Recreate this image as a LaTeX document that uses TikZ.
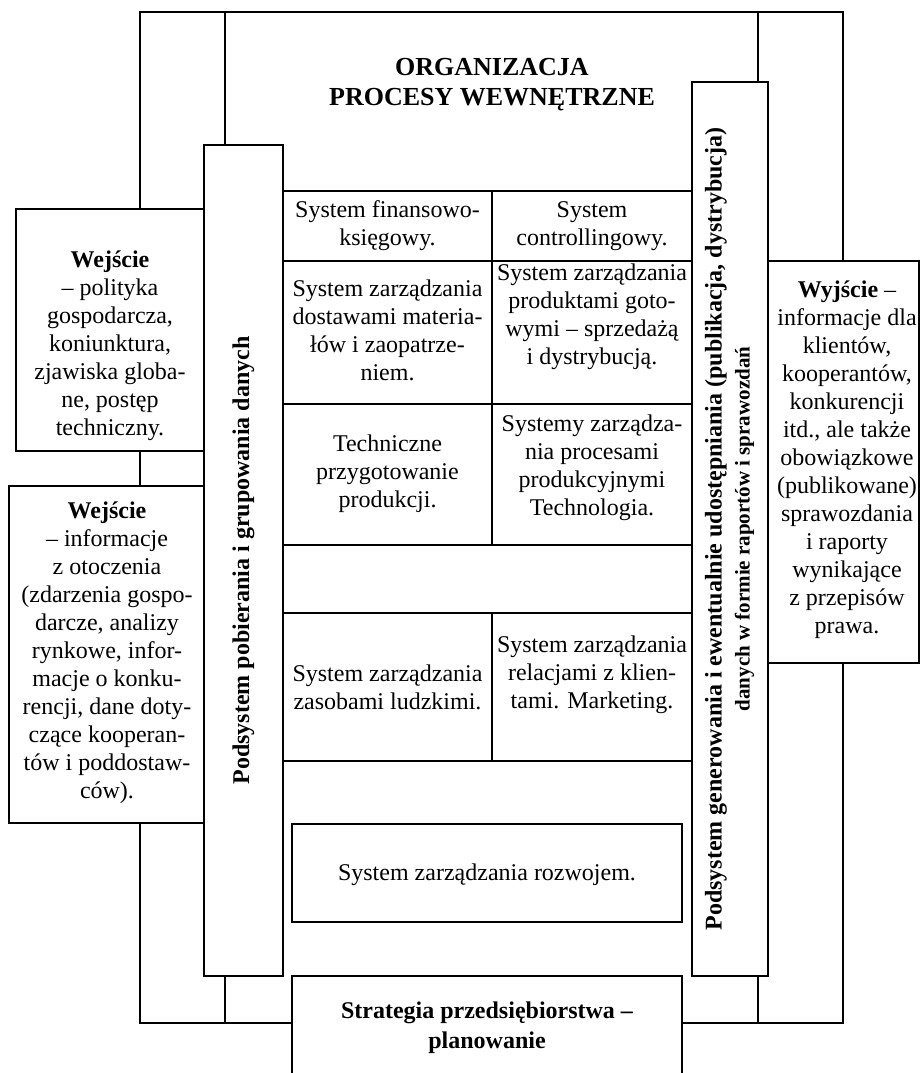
\documentclass[tikz,border=0pt]{standalone}
\usepackage{fontspec}
\setmainfont{Liberation Serif}
\usepackage{graphicx}
\usetikzlibrary{positioning}
\tikzset{
  box/.style={draw,line width=1pt,fill=white,inner sep=0pt},
  txt/.style={align=center,inner sep=0pt,font=\fontsize{12}{14}\selectfont},
  link/.style={line width=0.6pt},
  grid/.style={line width=1pt},
}
\begin{document}
\begin{tikzpicture}[x=0.5pt,y=-0.5pt]
\useasboundingbox (0,0) rectangle (920,1073);
\coordinate (tl) at (140,12);
\coordinate (tr) at (843,12);
\coordinate (bl) at (140,1023);
\coordinate (br) at (843,1023);
\coordinate (lt) at (225,12);
\coordinate (rt) at (758,12);
\node[txt,font=\fontsize{13}{15}\selectfont\bfseries] (org) at (492,85) {ORGANIZACJA\\PROCESY WEWNĘTRZNE};
\node[box,minimum width=94pt,minimum height=121pt] (wej1) at (110,330) {};
\node[txt] (wej1t) at (110,346) {\textbf{Wejście}\\– polityka\\gospodarcza,\\koniunktura,\\zjawiska globa-\\ne, postęp\\techniczny.};
\node[box,minimum width=97.5pt,minimum height=168.5pt] (wej2) at (106.5,654.5) {};
\node[txt] (wej2t) at (107,653) {\textbf{Wejście}\\– informacje\\z otoczenia\\(zdarzenia gospo-\\darcze, analizy\\rynkowe, infor-\\macje o konku-\\rencji, dane doty-\\czące kooperan-\\tów i poddostaw-\\ców).};
\node[box,minimum width=75.5pt,minimum height=201pt] (wyj) at (843.5,462) {};
\node[txt] (wyjt) at (847,460) {\textbf{Wyjście} –\\informacje dla\\klientów,\\kooperantów,\\konkurencji\\itd., ale także\\obowiązkowe\\(publikowane)\\sprawozdania\\i raporty\\wynikające\\z przepisów\\prawa.};
\node[box,minimum width=39.5pt,minimum height=415.5pt,font=\fontsize{12}{14}\selectfont\bfseries] (pob) at (243.5,560.5) {\rotatebox{90}{Podsystem pobierania i grupowania danych}};
\node[box,minimum width=38pt,minimum height=447pt,font=\fontsize{12}{14}\selectfont\bfseries] (gen) at (730,529) {\rotatebox{90}{\begin{tabular}{@{}c@{}}Podsystem generowania i ewentualnie udostępniania (publikacja, dystrybucja)\\{\fontsize{10.5}{13}\selectfont danych w formie raportów i sprawozdań}\end{tabular}}};
\node[box,minimum width=195pt,minimum height=49pt] (rozw) at (487,873) {};
\node[txt] (rozwt) at (487,875) {System zarządzania rozwojem.};
\node[box,minimum width=195pt,minimum height=57pt] (strat) at (487,1033) {};
\node[txt,font=\fontsize{12}{15}\selectfont\bfseries] (stratt) at (487,1028) {Strategia przedsiębiorstwa –\\planowanie};
\foreach \y in {191,261,404,545,613,761}
  \draw[grid] (pob.east |- 0,\y) -- (gen.west |- 0,\y);
\draw[grid] (492,191) -- (492,545);
\draw[grid] (492,613) -- (492,761);
\node[txt] (c11) at (387.5,226) {System finansowo-\\księgowy.};
\node[txt] (c12) at (592,226) {System\\controllingowy.};
\node[txt] (c21) at (387.5,330) {System zarządzania\\dostawami materia-\\łów i zaopatrze-\\niem.};
\node[txt] (c22) at (592,317) {System zarządzania\\produktami goto-\\wymi – sprzedażą\\i dystrybucją.};
\node[txt] (c31) at (387.5,474) {Techniczne\\przygotowanie\\produkcji.};
\node[txt] (c32) at (592,468) {Systemy zarządza-\\nia procesami\\produkcyjnymi\\Technologia.};
\node[txt] (c51) at (387.5,687) {System zarządzania\\zasobami ludzkimi.};
\node[txt] (c52) at (592,675) {System zarządzania\\relacjami z klien-\\tami. Marketing.};
\draw[link] (wej1.north -| tl) -- (tl) -- (tr) -- (wyj.north -| tr);
\draw[link] (wej1.south -| tl) -- (wej2.north -| tl);
\draw[link] (wej2.south -| bl) -- (bl) -- (bl -| strat.west);
\draw[link] (strat.east |- br) -- (br) -- (br |- wyj.south);
\draw[link] (lt) -- (lt |- pob.north);
\draw[link] (lt |- pob.south) -- (lt |- bl);
\draw[link] (rt) -- (rt |- gen.north);
\draw[link] (rt |- gen.south) -- (rt |- br);
\end{tikzpicture}
\end{document}
